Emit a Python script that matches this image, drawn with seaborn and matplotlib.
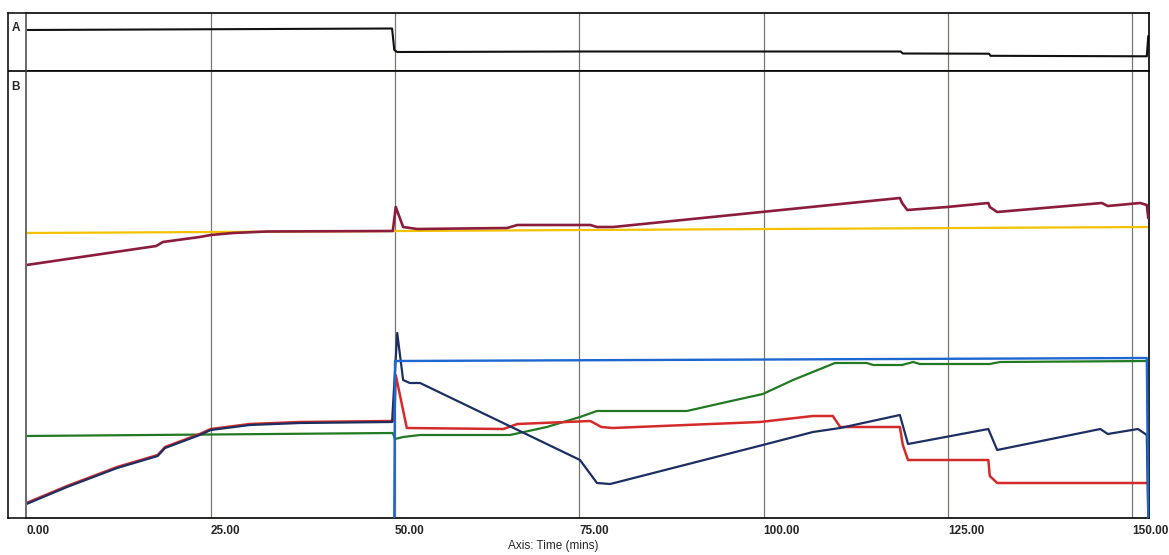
import matplotlib
matplotlib.use("Agg")
import matplotlib.pyplot as plt
import seaborn as sns
import pandas as pd

# ---------------- data (time in minutes, values in arbitrary chart units) ----------------
ticks = [0, 25, 50, 75, 100, 125, 150]
tick_labels = ["0.00", "25.00", "50.00", "75.00", "100.00", "125.00", "150.00"]

a_t = [0, 49.6, 49.9, 50.3, 75, 118.6, 118.9, 130.6, 130.8, 152.0, 152.2]
a_v = [41, 42.5, 21, 19, 19.5, 19.5, 17.5, 17.3, 15.2, 14.7, 35]

yellow_t = [0, 152.2]
yellow_v = [285, 291]

maroon_t = [0, 17.6, 18.5, 23.5, 25.0, 28.0, 32.6, 49.7, 50.1, 51.1, 53.0, 65.2, 66.6,
            76.5, 77.4, 79.6, 118.5, 118.8, 119.5, 124.9, 130.5, 130.7, 131.7, 145.9,
            146.7, 151.1, 152.0, 152.2]
maroon_v = [253, 272, 276, 281, 283, 285, 286.5, 287, 311, 291, 289, 290, 293,
            293, 291, 291, 320, 315, 308, 311, 315, 311, 306, 315,
            312, 315, 313, 300]

navy_t = [0, 5.5, 12.3, 17.8, 18.8, 23.5, 25.0, 30.3, 37.1, 49.6, 50.3, 51.1, 52.0, 53.4,
          75.1, 77.4, 79.2, 99.9, 106.7, 110.4, 118.5, 119.6, 130.5, 131.7, 145.7, 146.7,
          150.8, 152.0, 152.2]
navy_v = [14, 31, 50, 62, 70, 83, 88, 93, 95, 96, 185, 138, 135, 135,
          58, 35, 34, 73, 86, 90, 103, 74, 89, 68, 89, 84,
          89, 83, 0]

red_t = [0, 5.5, 12.3, 17.8, 18.8, 23.5, 25.0, 30.3, 37.1, 49.6, 49.9, 50.1, 51.6, 64.7,
         66.6, 76.5, 78.0, 79.5, 99.5, 106.7, 109.4, 110.4, 118.5, 118.9, 119.6, 130.5,
         130.7, 131.7, 152.1]
red_v = [15, 32, 51, 63, 71, 84, 89, 94, 96, 97, 97, 143, 90, 89,
         94, 97, 91, 90, 96, 102, 102, 91, 91, 73, 58, 58,
         42, 35, 35]

green_t = [0, 49.7, 50.0, 51.1, 53.4, 65.6, 70.6, 75.1, 77.4, 89.6, 95.0, 99.9, 104.0,
           109.7, 114.0, 114.9, 118.8, 120.3, 121.2, 130.7, 132.1, 152.1]
green_v = [82, 85, 79, 81, 83, 83, 91, 101, 107, 107, 116, 124, 138,
           155, 155, 153, 153, 156, 154, 154, 156, 157]

blue_t = [49.9, 50.0, 152.0, 152.2]
blue_v = [0, 157, 160, 0]

# ---------------- figure ----------------
sns.set_style("white")
plt.rcParams["font.family"] = ["Liberation Sans", "DejaVu Sans"]

W, H = 1169, 555
fig = plt.figure(figsize=(W / 100, H / 100), dpi=100)

x0, x1 = 26.5, 1149
yA0, ySep, yB1 = 13, 71, 518

axA = fig.add_axes([x0 / W, 1 - ySep / H, (x1 - x0) / W, (ySep - yA0) / H])
axB = fig.add_axes([x0 / W, 1 - yB1 / H, (x1 - x0) / W, (yB1 - ySep) / H])
axL = fig.add_axes([8 / W, 1 - yB1 / H, (x0 - 8) / W, (yB1 - yA0) / H])

xlim = (0, 152.3)
grid_col = "#77776a"

for ax in (axA, axB):
    ax.set_xlim(*xlim)
    for t in ticks[1:]:
        ax.axvline(t, color=grid_col, lw=0.9, zorder=0)
    for s in ax.spines.values():
        s.set_color("black")
        s.set_linewidth(1.2)
    ax.spines["left"].set_visible(False)

axA.set_ylim(0, ySep - yA0)
axB.set_ylim(0, yB1 - ySep)


def draw(ax, t, v, color, lw=1.7, z=2):
    df = pd.DataFrame({"t": t, "v": v})
    sns.lineplot(data=df, x="t", y="v", ax=ax, color=color, lw=lw,
                 estimator=None, sort=False, zorder=z)


draw(axA, a_t, a_v, "#111111", 1.5)

draw(axB, yellow_t, yellow_v, "#f2c200", 1.6, 2)
draw(axB, maroon_t, maroon_v, "#8c1c3c", 1.9, 3)
draw(axB, green_t, green_v, "#217a21", 1.6, 3)
draw(axB, red_t, red_v, "#d42a2a", 1.8, 4)
draw(axB, navy_t, navy_v, "#1c2f62", 1.6, 5)
draw(axB, blue_t, blue_v, "#1e66d0", 1.7, 6)

for ax in (axA, axB):
    ax.set_xlabel("")
    ax.set_ylabel("")
    ax.set_yticks([])

axA.set_xticks([])
axB.set_xticks(ticks)
axB.set_xticklabels(tick_labels, fontweight="bold", fontsize=8.5, ha="left")
axB.tick_params(axis="x", length=0, pad=5)

# left label column
axL.set_xticks([])
axL.set_yticks([])
axL.set_xlim(0, 1)
axL.set_ylim(0, yB1 - yA0)
for s in axL.spines.values():
    s.set_color("black")
    s.set_linewidth(1.1)
axL.spines["right"].set_color("#444444")
axL.axhline(yB1 - ySep, color="black", lw=1.2)
axL.text(0.2, yB1 - 28, "A", fontweight="bold", fontsize=8.5, ha="left", va="center")
axL.text(0.2, yB1 - 87, "B", fontweight="bold", fontsize=8.5, ha="left", va="center")

fig.text(553 / W, 1 - 546 / H, "Axis: Time (mins)", ha="center", va="center", fontsize=8.5)

fig.savefig("out.png", dpi=100)
